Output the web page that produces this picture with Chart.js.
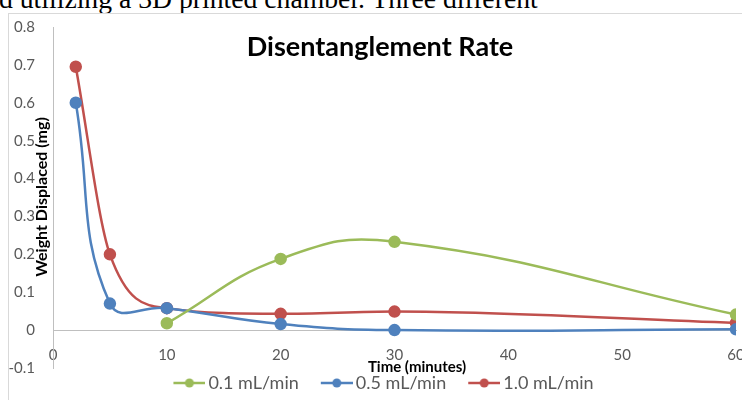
<!DOCTYPE html>
<html>
<head>
  <meta charset="UTF-8" />
  <title>Disentanglement Rate</title>
  <style>
    html, body { margin: 0; padding: 0; width: 742px; height: 400px; overflow: hidden; background: #fff; }
    #caption { position: absolute; left: -1px; top: -15px; font-family: "Liberation Serif", serif; font-size: 27.7px; line-height: 27px; white-space: nowrap; color: #000; }
    #box { position: absolute; left: 8px; top: 13px; width: 780px; height: 420px; border: 1px solid #d9d9d9; background: #fff; }
    #box canvas { position: absolute; left: 0; top: 0; }
  </style>
</head>
<body>
  <div id="caption">d utilizing a 3D printed chamber. Three different</div>
  <div id="box"><canvas id="rateChart" width="760" height="400"></canvas></div>
  <script src="https://cdn.jsdelivr.net/npm/chart.js"></script>
  <script>
    // values
    const lowTimes = [10, 20, 30, 60];
    const lowFlow = [0.018, 0.188, 0.233, 0.041];
    const times = [2, 5, 10, 20, 30, 60];
    const midFlow = [0.6, 0.07, 0.058, 0.016, 0.0, 0.002];
    const highFlow = [0.695, 0.2, 0.058, 0.043, 0.049, 0.019];
    const seriesNames = ['0.1 mL/min', '0.5 mL/min', '1.0 mL/min'];
    const colors = ['#9bbb59', '#4f81bd', '#c0504d'];

    const pts = (xs, ys) => xs.map((x, i) => ({ x: x, y: ys[i] }));

    // Excel style legend key: short line with a dot
    function legendMarker(color) {
      const c = document.createElement('canvas');
      c.width = 54; c.height = 12;
      const g = c.getContext('2d');
      g.strokeStyle = color;
      g.lineWidth = 2.5;
      g.beginPath(); g.moveTo(22, 6); g.lineTo(54, 6); g.stroke();
      g.fillStyle = color;
      g.beginPath(); g.arc(38, 6, 4.5, 0, Math.PI * 2); g.fill();
      return c;
    }
    const markers = colors.map(legendMarker);

    const textPlugin = {
      id: 'textPlugin',
      afterLayout(chart) {
        // legend sits a little right of the canvas middle in the original
        chart.legend.left += 3;
        chart.legend.right += 3;
      },
      afterDraw(chart) {
        const ctx = chart.ctx;
        ctx.save();
        ctx.fillStyle = '#000';
        ctx.textAlign = 'center';
        ctx.textBaseline = 'middle';
        ctx.font = 'bold 27px Lato';
        ctx.fillText('Disentanglement Rate', 371, 33);
        ctx.font = 'bold 15px Lato';
        ctx.fillText('Time (minutes)', 408, 353);
        ctx.translate(33, 183);
        ctx.rotate(-Math.PI / 2);
        ctx.font = 'bold 16px Lato';
        ctx.fillText('Weight Displaced (mg)', 0, 0);
        ctx.restore();
      }
    };

    const line = (label, data, color, mode) => ({
      label: label,
      data: data,
      borderColor: color,
      backgroundColor: color,
      borderWidth: 2.5,
      pointRadius: 5,
      pointHoverRadius: 5,
      tension: 0.45,
      cubicInterpolationMode: mode,
      fill: false
    });

    Chart.defaults.font.family = 'Lato';

    new Chart(document.getElementById('rateChart'), {
      type: 'line',
      data: {
        datasets: [
          line(seriesNames[0], pts(lowTimes, lowFlow), colors[0], 'default'),
          line(seriesNames[1], pts(times, midFlow), colors[1], 'default'),
          line(seriesNames[2], pts(times, highFlow), colors[2], 'monotone')
        ]
      },
      options: {
        responsive: false,
        animation: false,
        layout: { padding: { left: 0, right: 33, top: 13, bottom: 12 } },
        scales: {
          x: {
            type: 'linear',
            position: { y: 0 },
            min: 0, max: 60,
            grid: { display: false, drawTicks: false },
            border: { display: true, color: '#bfbfbf', width: 1 },
            ticks: { stepSize: 10, padding: 16, color: '#595959', font: { size: 15 } },
            afterFit: s => { s.height = 0; }
          },
          y: {
            min: -0.1, max: 0.8,
            grid: { display: false, drawTicks: false },
            border: { display: true, color: '#bfbfbf', width: 1 },
            ticks: {
              stepSize: 0.1, padding: 18, color: '#595959', font: { size: 15 },
              callback: v => String(Math.round(v * 10) / 10)
            },
            afterFit: s => { s.width = 44; s.paddingTop = 0; s.paddingBottom = 0; }
          }
        },
        plugins: {
          tooltip: { enabled: false },
          legend: {
            position: 'bottom',
            labels: {
              usePointStyle: true,
              pointStyleWidth: 42,
              padding: 6,
              color: '#595959',
              font: { size: 18 },
              generateLabels: chart => Chart.defaults.plugins.legend.labels.generateLabels(chart)
                .map((item, i) => Object.assign(item, { pointStyle: markers[i] }))
            }
          }
        }
      },
      plugins: [textPlugin]
    });
  </script>
</body>
</html>
